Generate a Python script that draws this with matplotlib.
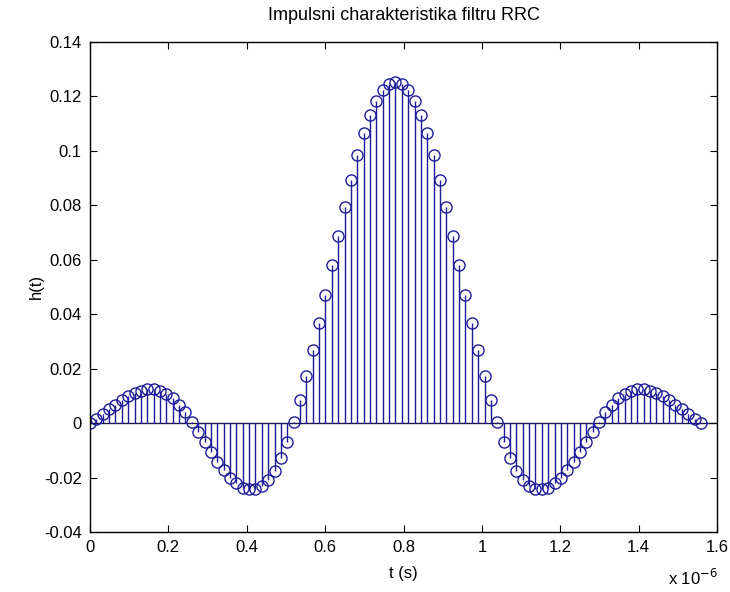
import numpy as np
import matplotlib
matplotlib.use("Agg")
import matplotlib.pyplot as plt

# sample period in microseconds (axis shown as x 10^-6 s)
Ts_us = 0.01624

# half of the symmetric impulse response, samples k = 0..48
h_half = [0.0000, 0.0016, 0.0033, 0.0050, 0.0067, 0.0083, 0.0098, 0.0110, 0.0119, 0.0124,
          0.0124, 0.0119, 0.0108, 0.0091, 0.0068, 0.0039, 0.0005, -0.0032, -0.0070, -0.0107,
          -0.0142, -0.0174, -0.0201, -0.0222, -0.0237, -0.0244, -0.0243, -0.0232, -0.0210, -0.0176,
          -0.0129, -0.0069, 0.0002, 0.0085, 0.0172, 0.0268, 0.0366, 0.0472, 0.0580, 0.0688,
          0.0794, 0.0894, 0.0984, 0.1065, 0.1132, 0.1184, 0.1222, 0.1245, 0.1253]
h = h_half + h_half[-2::-1]
t = np.arange(len(h)) * Ts_us

xticks = [0, 0.2, 0.4, 0.6, 0.8, 1, 1.2, 1.4, 1.6]
yticks = [-0.04, -0.02, 0, 0.02, 0.04, 0.06, 0.08, 0.1, 0.12, 0.14]

plt.rcParams['font.family'] = ['Liberation Sans', 'DejaVu Sans']

fig = plt.figure(figsize=(7.30, 5.92), dpi=100)
ax = fig.add_axes([0.1233, 0.1014, 0.8589, 0.828])

col = '#1c1c9a'
ml, sl, bl = ax.stem(t, h, basefmt=' ')
plt.setp(sl, color=col, linewidth=1.0)
plt.setp(ml, color=col, marker='o', markersize=8, markerfacecolor='none',
         markeredgecolor=col, markeredgewidth=1.0)
ax.axhline(0, color='#1a1a50', linewidth=1.0, zorder=1)

ax.set_xlim(0, 1.6)
ax.set_ylim(-0.04, 0.14)
ax.set_xticks(xticks)
ax.set_xticklabels([f"{v:g}" for v in xticks])
ax.set_yticks(yticks)
ax.set_yticklabels([f"{v:g}" for v in yticks])
ax.tick_params(direction='in', length=5, top=True, right=True, labelsize=12, pad=6)
for s in ax.spines.values():
    s.set_linewidth(1.0)

ax.set_title('Impulsni charakteristika filtru RRC', fontsize=13, pad=16)
ax.set_xlabel('t (s)', fontsize=12, labelpad=8)
ax.set_ylabel('h(t)', fontsize=12, labelpad=0)
fig.text(0.949, 0.006, r'x 10$^{-6}$', fontsize=12, ha='center', va='bottom')

fig.savefig('out.png', dpi=100, facecolor='white')
